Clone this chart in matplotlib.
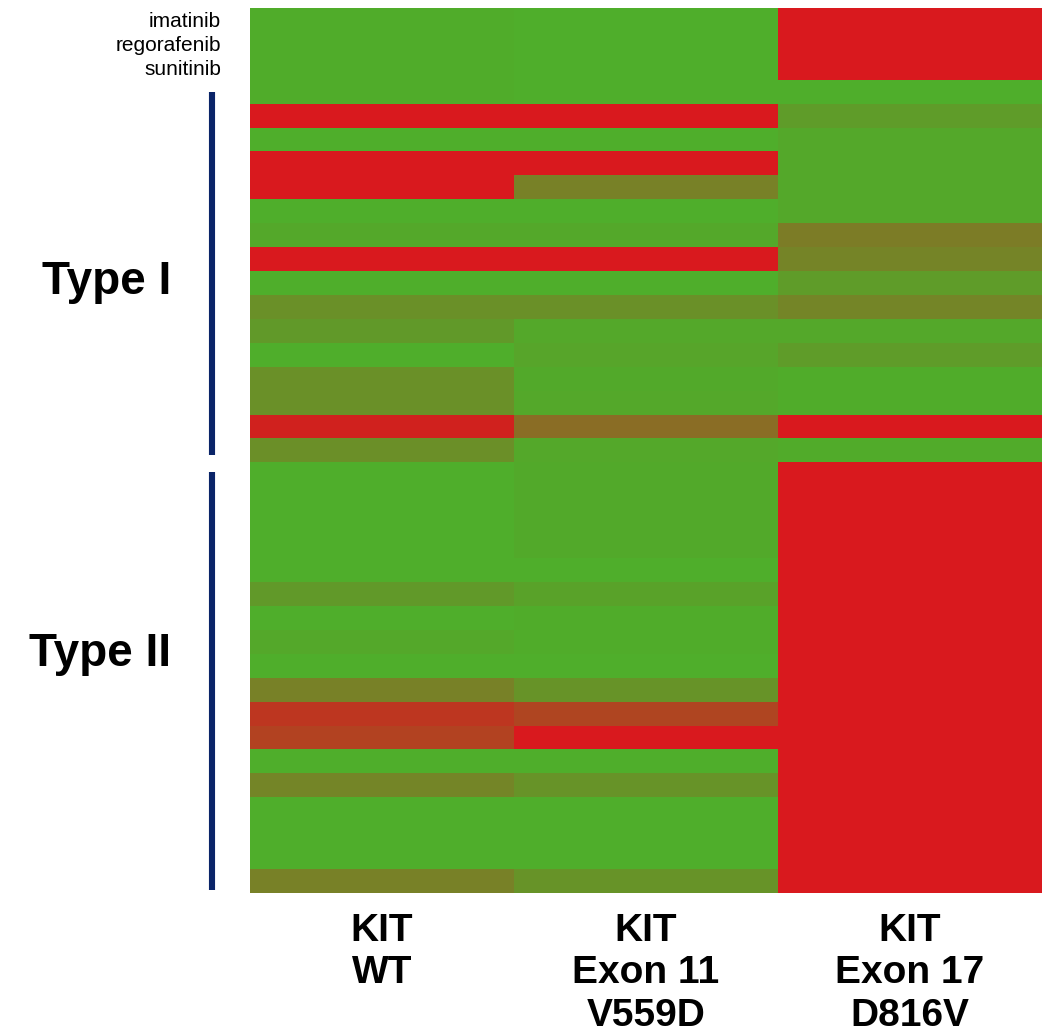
import numpy as np
import matplotlib
matplotlib.use("Agg")
import matplotlib.pyplot as plt
from matplotlib.colors import LinearSegmentedColormap
from matplotlib.transforms import blended_transform_factory

plt.rcParams['font.family'] = ['Liberation Sans', 'DejaVu Sans']

# Columns (KIT variants)
columns = ["KIT\nWT", "KIT\nExon 11\nV559D", "KIT\nExon 17\nD816V"]
# Only the first three rows are named
drug_labels = ["imatinib", "regorafenib", "sunitinib"]

# 0 = sensitive (green) ... 1 = resistant (red)
wt = [0.015, 0.015, 0.015, 0.015, 1.0, 0.0, 1.0, 1.0, 0.0, 0.04,
      1.0, 0.0, 0.2, 0.14, 0.0, 0.2, 0.2, 0.94, 0.21,
      0.0, 0.0, 0.0, 0.0, 0.0, 0.14, 0.0, 0.04, 0.0, 0.3,
      0.8, 0.72, 0.0, 0.27, 0.0, 0.0, 0.0, 0.3]
v559d = [0.0, 0.0, 0.0, 0.0, 1.0, 0.0, 1.0, 0.3, 0.0, 0.04,
         1.0, 0.0, 0.2, 0.04, 0.06, 0.03, 0.04, 0.43, 0.04,
         0.03, 0.03, 0.03, 0.03, 0.0, 0.08, 0.01, 0.01, 0.0, 0.18,
         0.7, 1.0, 0.0, 0.18, 0.0, 0.0, 0.0, 0.18]
d816v = [1.0, 1.0, 1.0, 0.0, 0.12, 0.04, 0.04, 0.04, 0.04, 0.33,
         0.28, 0.12, 0.27, 0.04, 0.12, 0.01, 0.01, 1.0, 0.02,
         1.0, 1.0, 1.0, 1.0, 1.0, 1.0, 1.0, 1.0, 1.0, 1.0,
         1.0, 1.0, 1.0, 1.0, 1.0, 1.0, 1.0, 1.0]

# inhibitor groups: (label, first row, last row)
groups = [("Type I", 3, 18), ("Type II", 19, 36)]

data = np.column_stack([wt, v559d, d816v])
nrows = data.shape[0]

W, H = 1042, 1034
fig = plt.figure(figsize=(W / 100, H / 100), dpi=100)
ax = fig.add_axes([250 / W, 1 - 893 / H, (1042 - 250) / W, (893 - 8) / H])

cmap = LinearSegmentedColormap.from_list("gr", ["#4FAE2B", "#D9191E"])
ax.imshow(data, cmap=cmap, vmin=0, vmax=1, aspect='auto', interpolation='nearest')
ax.set_xlim(-0.5, 2.5)
ax.set_ylim(nrows - 0.5, -0.5)
for s in ax.spines.values():
    s.set_visible(False)

ax.set_yticks(range(len(drug_labels)))
ax.set_yticklabels(drug_labels, fontsize=15)
ax.tick_params(axis='y', length=0, pad=21)
ax.set_xticks([])

# column labels
for i, lab in enumerate(columns):
    ax.text(i, nrows - 0.5 + 0.85, lab, ha='center', va='top', fontsize=28,
            fontweight='bold', linespacing=1.22)

# group bars and labels (layout offsets, in rows)
bar_insets = [(0.5, 0.33), (0.4, 0.13)]
label_offsets = [0.45, -1.0]
tr = blended_transform_factory(fig.transFigure, ax.transData)
for (lab, r0, r1), (it, ib), lo in zip(groups, bar_insets, label_offsets):
    y0 = r0 - 0.5 + it
    y1 = r1 + 0.5 - ib
    ax.plot([212 / W, 212 / W], [y0, y1], transform=tr, color='#0A2468', lw=4.4,
            solid_capstyle='butt', clip_on=False)
    ax.text(171 / W, (r0 + r1) / 2 + lo, lab, transform=tr, ha='right', va='center',
            fontsize=33, fontweight='bold')

fig.savefig("out.png", dpi=100)
